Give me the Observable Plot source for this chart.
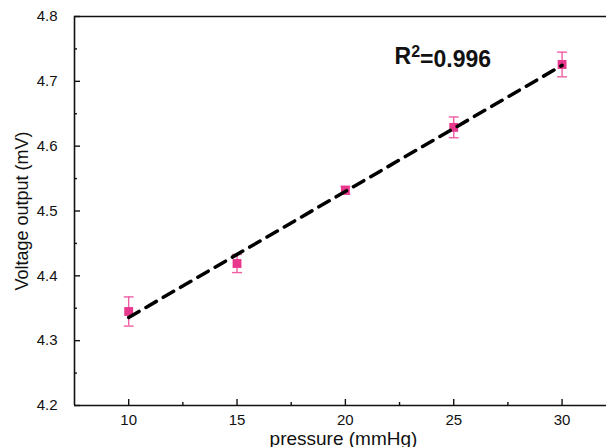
<!DOCTYPE html>
<html>
<head>
<meta charset="utf-8">
<script src="https://cdn.jsdelivr.net/npm/d3@7"></script>
<script src="https://cdn.jsdelivr.net/npm/@observablehq/plot@0.6"></script>
<style>
  html, body { margin: 0; padding: 0; background: #fff; }
  #chart svg { display: block; }
</style>
</head>
<body>
<div id="chart"></div>
<script>
const pressure = [10, 15, 20, 25, 30];
const voltage = [4.345, 4.419, 4.532, 4.629, 4.726];
const errors = [0.0225, 0.014, 0.006, 0.016, 0.019];
const xMajorTicks = [10, 15, 20, 25, 30];
const xMinorTicks = [12.5, 17.5, 22.5, 27.5];
const yMajorTicks = [4.2, 4.3, 4.4, 4.5, 4.6, 4.7, 4.8];
const yMinorTicks = [4.25, 4.35, 4.45, 4.55, 4.65, 4.75];
const r2Parts = ["R", "2", "=0.996"];

const data = pressure.map((p, i) => ({p, v: voltage[i], lo: voltage[i] - errors[i], hi: voltage[i] + errors[i]}));

const capSymbol = {
  draw(context, size) {
    const w = Math.sqrt(size);
    context.moveTo(-w, 0);
    context.lineTo(w, 0);
  }
};

const markColor = "#e8378d";
const errColor = "#ee5fa3";
const font = "'Liberation Sans', Arial, sans-serif";

const chart = Plot.plot({
  width: 606,
  height: 447,
  marginLeft: 74,
  marginRight: 0,
  marginTop: 16,
  marginBottom: 42,
  style: {fontFamily: font, fontSize: "15px", color: "#111", background: "#fff"},
  x: {domain: [7.5, 32.05], axis: null},
  y: {domain: [4.2, 4.8], axis: null},
  marks: [
    // frame lines
    Plot.ruleX([7.5], {stroke: "#111", strokeWidth: 1.6}),
    Plot.ruleY([4.2, 4.8], {stroke: "#111", strokeWidth: 1.6}),
    // inward ticks
    Plot.axisY(yMajorTicks, {anchor: "left", tickSize: 6, dx: 6, tickFormat: () => "", strokeWidth: 1.4, label: null}),
    Plot.axisY(yMinorTicks, {anchor: "left", tickSize: 3, dx: 3, tickFormat: () => "", strokeWidth: 1.4, label: null}),
    Plot.axisX(xMajorTicks, {anchor: "bottom", tickSize: 6, dy: -6, tickFormat: () => "", strokeWidth: 1.4, label: null}),
    Plot.axisX(xMinorTicks, {anchor: "bottom", tickSize: 3, dy: -3, tickFormat: () => "", strokeWidth: 1.4, label: null}),
    // tick labels
    Plot.axisY(yMajorTicks, {anchor: "left", tickSize: 0, tickPadding: 17, tickFormat: d3.format(".1f"), fontSize: 15, fill: "#111", label: null}),
    Plot.axisX(xMajorTicks, {anchor: "bottom", tickSize: 0, tickPadding: 9, tickFormat: d => String(d), fontSize: 15, fill: "#111", label: null}),
    // axis titles
    Plot.text(["Voltage output (mV)"], {frameAnchor: "left", dx: -52, rotate: -90, fontSize: 18, fill: "#111", textAnchor: "middle"}),
    Plot.text(["pressure (mmHg)"], {frameAnchor: "bottom", dy: 39, dx: 3, fontSize: 19, fill: "#111", textAnchor: "middle"}),
    // error bars
    Plot.ruleX(data, {x: "p", y1: "lo", y2: "hi", stroke: errColor, strokeWidth: 1.4}),
    Plot.dot(data, {x: "p", y: "lo", symbol: capSymbol, r: 2.8, stroke: errColor, strokeWidth: 1.4, fill: "none"}),
    Plot.dot(data, {x: "p", y: "hi", symbol: capSymbol, r: 2.8, stroke: errColor, strokeWidth: 1.4, fill: "none"}),
    // squares
    Plot.dot(data, {x: "p", y: "v", symbol: "square", r: 5, fill: markColor, stroke: "none"}),
    // fit line
    Plot.linearRegressionY(data, {x: "p", y: "v", ci: 0, stroke: "#000", strokeWidth: 3.5, strokeDasharray: "12,8"}),
    // R^2 annotation
    Plot.text([r2Parts.join("")], {frameAnchor: "top-left", dx: 320, dy: 40, textAnchor: "start", lineAnchor: "middle", fontSize: 23, fontWeight: "bold", fill: "#111", className: "r2"})
  ]
});
document.getElementById("chart").appendChild(chart);

// render the "2" as a true superscript
d3.select(chart).selectAll("g.r2 text").each(function() {
  const t = d3.select(this);
  t.text(null);
  t.append("tspan").text(r2Parts[0]);
  t.append("tspan").attr("dy", "-0.45em").attr("font-size", "16").text(r2Parts[1]);
  t.append("tspan").attr("dy", "0.45em").text(r2Parts[2]);
});
</script>
</body>
</html>
